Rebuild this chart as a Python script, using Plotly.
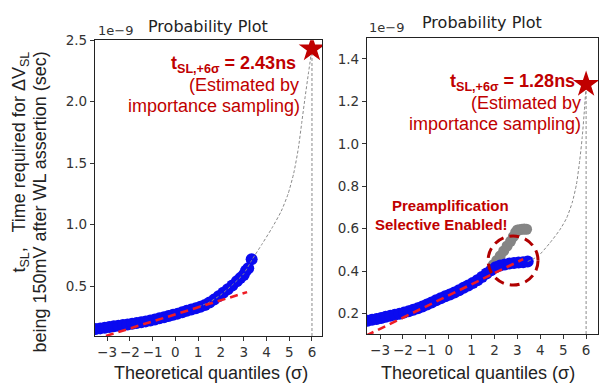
import plotly.graph_objects as go

# ---------------- data (values in units of 1e-9 s) ----------------
left_q = [-3.5, -3.3, -3.1, -2.9, -2.7, -2.5, -2.3, -2.1, -1.9, -1.7, -1.5, -1.3, -1.1,
          -0.9, -0.7, -0.5, -0.3, -0.1, 0.1, 0.3, 0.5, 0.7, 0.9, 1.1, 1.3, 1.5, 1.7,
          1.9, 2.1, 2.3, 2.5, 2.7, 2.85, 3.0, 3.1, 3.2, 3.35]
left_t = [0.150, 0.156, 0.161, 0.167, 0.173, 0.178, 0.183, 0.188, 0.193, 0.199, 0.206,
          0.213, 0.220, 0.229, 0.238, 0.247, 0.256, 0.266, 0.276, 0.288, 0.300, 0.310,
          0.320, 0.332, 0.347, 0.366, 0.390, 0.418, 0.445, 0.475, 0.505, 0.540, 0.565,
          0.590, 0.625, 0.645, 0.718]
left_fit_q = [-3.05, 3.15]
left_fit_t = [0.095, 0.451]
left_tail_q = [1.0, 1.5, 2.0, 2.5, 3.0, 3.35, 3.8, 4.25, 4.65, 4.95, 5.2, 5.4, 5.55,
               5.7, 5.85, 6.0]
left_tail_t = [0.33, 0.37, 0.43, 0.51, 0.60, 0.71, 0.84, 0.975, 1.11, 1.25, 1.42,
               1.62, 1.83, 2.04, 2.24, 2.43]
left_star_q = [6.0]
left_star_t = [2.43]

right_q = [-3.55, -3.35, -3.15, -2.95, -2.75, -2.55, -2.35, -2.15, -1.95, -1.75, -1.55,
           -1.35, -1.15, -0.95, -0.75, -0.55, -0.35, -0.15, 0.05, 0.25, 0.45, 0.65, 0.85,
           1.05, 1.25, 1.45, 1.65, 1.85, 2.05, 2.25, 2.45, 2.65, 2.85, 3.05, 3.25, 3.45]
right_t = [0.166, 0.170, 0.174, 0.179, 0.184, 0.189, 0.194, 0.199, 0.204, 0.211, 0.218,
           0.225, 0.233, 0.242, 0.252, 0.262, 0.272, 0.281, 0.289, 0.299, 0.310, 0.321,
           0.332, 0.344, 0.357, 0.372, 0.388, 0.404, 0.418, 0.426, 0.431, 0.435, 0.438,
           0.440, 0.442, 0.445]
right_gray_q = [1.95, 2.1, 2.25, 2.4, 2.55, 2.7, 2.82, 2.92, 3.0, 3.1, 3.2, 3.3, 3.4]
right_gray_t = [0.43, 0.45, 0.472, 0.495, 0.518, 0.54, 0.562, 0.582, 0.594, 0.595, 0.597,
                0.598, 0.597]
right_fit_q = [-3.6, 3.25]
right_fit_t = [0.096, 0.456]
right_tail_q = [3.45, 3.9, 4.4, 4.85, 5.15, 5.4, 5.58, 5.72, 5.83, 5.92, 6.0]
right_tail_t = [0.445, 0.47, 0.53, 0.594, 0.65, 0.725, 0.81, 0.92, 1.03, 1.15, 1.28]
right_star_q = [6.0]
right_star_t = [1.28]

x_ticks = [-3, -2, -1, 0, 1, 2, 3, 4, 5, 6]
x_ticklabels = ["\u22123", "\u22122", "\u22121", "0", "1", "2", "3", "4", "5", "6"]
left_yticks = [0.5, 1.0, 1.5, 2.0, 2.5]
right_yticks = [0.2, 0.4, 0.6, 0.8, 1.0, 1.2, 1.4]

# ---------------- styles ----------------
W, H = 600, 383
RED_TXT = "#c00000"
BLUE = "#0a0af0"
TICKFONT = dict(family="DejaVu Sans", size=13.5, color="#333333")
ARIAL = "Liberation Sans, Arial"

left_xr = [-3.53, 6.44]
left_yr = [0.094, 2.5]
right_xr = [-3.57, 6.52]
right_yr = [0.103, 1.497]


def px(x):
    return x / W


def py(y):
    return 1 - y / H


fig = go.Figure()


def add_panel(xa, ya, q, t, fq, ft, tq, tt, sq, st, ymin, gq=None, gt=None):
    # vertical dashed line at the star
    fig.add_trace(go.Scatter(x=[sq[0], sq[0]], y=[ymin, st[0]], mode="lines", xaxis=xa, yaxis=ya,
                             line=dict(color="#8a8a8a", width=1, dash="3px,2px"),
                             showlegend=False))
    if gq is not None:
        fig.add_trace(go.Scatter(x=gq, y=gt, mode="markers", xaxis=xa, yaxis=ya,
                                 marker=dict(color="#858585", size=11, line=dict(width=0)),
                                 showlegend=False))
    fig.add_trace(go.Scatter(x=q, y=t, mode="markers", xaxis=xa, yaxis=ya,
                             marker=dict(color=BLUE, size=12, line=dict(width=0)),
                             showlegend=False))
    # thin gray dashed extrapolation curve
    fig.add_trace(go.Scatter(x=tq, y=tt, mode="lines", xaxis=xa, yaxis=ya,
                             line=dict(color="#8a8a8a", width=1, dash="3px,2px",
                                       shape="spline", smoothing=0.6),
                             showlegend=False))
    fig.add_trace(go.Scatter(x=fq, y=ft, mode="lines", xaxis=xa, yaxis=ya,
                             line=dict(color="#ee1c25", width=2.6, dash="8px,5px"),
                             showlegend=False))
    fig.add_trace(go.Scatter(x=sq, y=st, mode="markers", xaxis=xa, yaxis=ya,
                             marker=dict(symbol="star", color=RED_TXT, size=20, line=dict(width=0)),
                             showlegend=False))


add_panel("x", "y", left_q, left_t, left_fit_q, left_fit_t, left_tail_q, left_tail_t,
          left_star_q, left_star_t, left_yr[0])
add_panel("x2", "y2", right_q, right_t, right_fit_q, right_fit_t, right_tail_q, right_tail_t,
          right_star_q, right_star_t, right_yr[0], right_gray_q, right_gray_t)

axis_common = dict(showline=True, linecolor="#222222", linewidth=1.3, mirror=True,
                   ticks="outside", ticklen=4, tickwidth=1, tickcolor="#333333",
                   showgrid=False, zeroline=False, tickfont=TICKFONT)

fig.update_layout(
    width=W, height=H,
    margin=dict(l=0, r=0, t=0, b=0),
    paper_bgcolor="white", plot_bgcolor="white",
    xaxis=dict(domain=[px(95), px(322)], range=left_xr, anchor="y",
               tickvals=x_ticks, ticktext=x_ticklabels, **axis_common),
    yaxis=dict(domain=[py(335), py(33)], range=left_yr, anchor="x",
               tickvals=left_yticks, ticktext=[f"{v:.1f}" for v in left_yticks], **axis_common),
    xaxis2=dict(domain=[px(367), px(598)], range=right_xr, anchor="y2",
                tickvals=x_ticks, ticktext=x_ticklabels, **axis_common),
    yaxis2=dict(domain=[py(333), py(31)], range=right_yr, anchor="x2",
                tickvals=right_yticks, ticktext=[f"{v:.1f}" for v in right_yticks], **axis_common),
)

fig.add_shape(type="circle", xref="x2", yref="y2", x0=1.72, x1=3.9, y0=0.334, y1=0.565,
              line=dict(color="#b00000", width=3, dash="10px,6px"))

anns = []


def ann(text, x, y, xanchor="center", yanchor="middle", size=18, color="#222222",
        family=ARIAL, angle=0, align="center"):
    anns.append(dict(text=text, x=px(x), y=py(y), xref="paper", yref="paper",
                     xanchor=xanchor, yanchor=yanchor, showarrow=False, textangle=angle,
                     align=align, font=dict(size=size, color=color, family=family)))


# titles and offsets
ann("Probability Plot", 208, 19, size=16, family="DejaVu Sans")
ann("Probability Plot", 482, 15, size=16, family="DejaVu Sans")
ann("1e\u22129", 96, 23, xanchor="left", size=13, family="DejaVu Sans", color="#333333")
ann("1e\u22129", 367, 20, xanchor="left", size=13, family="DejaVu Sans", color="#333333")

# x titles
ann("Theoretical quantiles (\u03c3)", 211, 373)
ann("Theoretical quantiles (\u03c3)", 478, 373)

# y title (two rotated lines, aligned at their top end)
ann("t<sub>SL</sub>,   Time required for \u0394V<sub>SL</sub>", 21, 43, yanchor="top", angle=-90)
ann("being 150mV after WL assertion (sec)", 40, 43, yanchor="top", angle=-90)

# left red notes
ann("<b>t<sub>SL,+6\u03c3</sub> = 2.43ns</b>", 298, 58, xanchor="right", color=RED_TXT)
ann("(Estimated by", 301, 79, xanchor="right", color=RED_TXT)
ann("importance sampling)", 302, 100, xanchor="right", color=RED_TXT)

# right red notes
ann("<b>t<sub>SL,+6\u03c3</sub> = 1.28ns</b>", 577, 76, xanchor="right", color=RED_TXT)
ann("(Estimated by", 583, 97, xanchor="right", color=RED_TXT)
ann("importance sampling)", 583, 118, xanchor="right", color=RED_TXT)

ann("<b>Preamplification</b>", 450, 202, size=15, color=RED_TXT)
ann("<b>Selective Enabled!</b>", 441, 221, size=15, color=RED_TXT)

fig.update_layout(annotations=anns)

fig.write_html("out.html")
